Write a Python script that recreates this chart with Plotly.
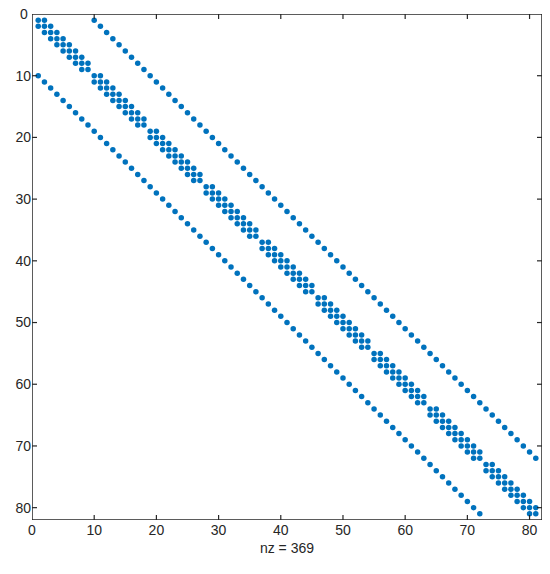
import numpy as np
import plotly.graph_objects as go

# 9x9 grid, 5-point Laplacian -> 81x81 sparse matrix
grid_n = 9
stencil_1d = [-1, 2, -1]
tick_vals = [0, 10, 20, 30, 40, 50, 60, 70, 80]
axis_max = 82

T = np.diag([stencil_1d[1]] * grid_n) + np.diag([stencil_1d[0]] * (grid_n - 1), -1) + np.diag([stencil_1d[2]] * (grid_n - 1), 1)
I = np.eye(grid_n)
A = np.kron(I, T) + np.kron(T, I)
rows, cols = np.nonzero(A)
rows = rows + 1
cols = cols + 1
nz = len(rows)

# page body adds an 8px offset, so the figure is sized to match
W, H = 542, 566
ml, mr, mt, mb = 24, 8, 6, 54
plot_w = W - ml - mr
plot_h = H - mt - mb
line_col = "#262626"
font = dict(family="Liberation Sans, Arial", size=14, color=line_col)

fig = go.Figure()
fig.add_trace(go.Scatter(
    x=cols, y=rows, mode="markers",
    marker=dict(color="#0072BD", size=5.5, line=dict(width=0)),
    hoverinfo="skip", showlegend=False,
))

# axes box
fig.add_trace(go.Scatter(
    x=[0, axis_max, axis_max, 0, 0], y=[0, 0, axis_max, axis_max, 0],
    mode="lines", line=dict(color=line_col, width=1.5),
    cliponaxis=False, hoverinfo="skip", showlegend=False,
))

# inward ticks on all four sides
dx = 5 * axis_max / plot_w
dy = 5 * axis_max / plot_h
tx, ty = [], []
for v in tick_vals[1:]:
    tx += [v, v, None, v, v, None, 0, dx, None, axis_max - dx, axis_max, None]
    ty += [axis_max, axis_max - dy, None, 0, dy, None, v, v, None, v, v, None]
fig.add_trace(go.Scatter(
    x=tx, y=ty, mode="lines", line=dict(color=line_col, width=1.2),
    cliponaxis=False, hoverinfo="skip", showlegend=False,
))

axis_common = dict(
    ticks="",
    showline=False,
    showgrid=False,
    zeroline=False,
    automargin=False,
    tickfont=font,
)

fig.update_xaxes(**axis_common)
fig.update_xaxes(range=[0, axis_max], tickvals=tick_vals,
                 title=dict(text=f"nz = {nz}", font=font, standoff=6))
fig.update_yaxes(**axis_common)
# top "0" label sits at the very edge of the page, so it is placed as an annotation
fig.update_yaxes(range=[axis_max, 0], tickvals=tick_vals[1:])
fig.add_annotation(x=0, xref="paper", y=tick_vals[0], yref="y", text=str(tick_vals[0]),
                   showarrow=False, xanchor="right", yanchor="middle", xshift=-2,
                   font=font)

fig.update_layout(
    width=W, height=H,
    margin=dict(l=ml, r=mr, t=mt, b=mb),
    paper_bgcolor="white",
    plot_bgcolor="white",
)

fig.write_html("out.html")
